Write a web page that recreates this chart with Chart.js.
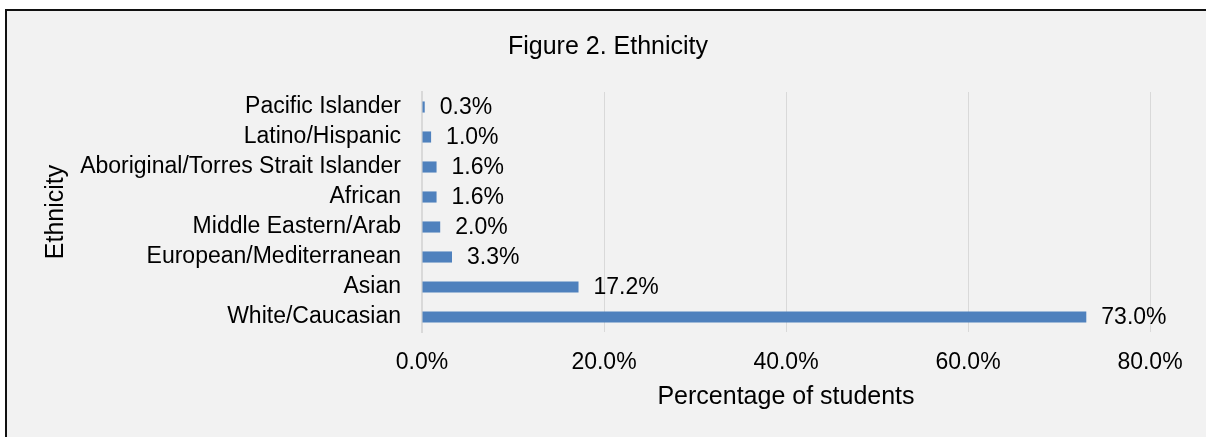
<!DOCTYPE html>
<html>
<head>
<meta charset="utf-8">
<script src="https://cdn.jsdelivr.net/npm/chart.js@4.4.1/dist/chart.umd.min.js"></script>
<style>
  html, body { margin: 0; padding: 0; background: #fff; overflow: hidden; }
  body { width: 1206px; height: 437px; position: relative; }
  #frame {
    position: absolute; left: 5px; top: 9px;
    width: 1199px; height: 426px;
    border-left: 2px solid #111; border-top: 2px solid #111;
    background: #f2f2f2;
  }
  #wrap { position: absolute; left: 0; top: 0; width: 1206px; height: 437px; }
</style>
</head>
<body>
<div id="frame"></div>
<div id="wrap"><canvas id="chart" width="1206" height="437"></canvas></div>
<script>
// categories, top to bottom
const ethnicities = [
  'Pacific Islander',
  'Latino/Hispanic',
  'Aboriginal/Torres Strait Islander',
  'African',
  'Middle Eastern/Arab',
  'European/Mediterranean',
  'Asian',
  'White/Caucasian'
];
// percentage of students
const percentages = [0.3, 1.0, 1.6, 1.6, 2.0, 3.3, 17.2, 73.0];
const xTicks = [0, 20, 40, 60, 80];

const FONT = "'Liberation Sans', Arial, sans-serif";
const TEXT = '#000';

// value labels next to each bar
const barLabels = {
  id: 'barLabels',
  afterDatasetsDraw(chart) {
    const ctx = chart.ctx;
    const meta = chart.getDatasetMeta(0);
    ctx.save();
    ctx.font = '23px ' + FONT;
    ctx.fillStyle = TEXT;
    ctx.textAlign = 'left';
    ctx.textBaseline = 'middle';
    meta.data.forEach((bar, i) => {
      ctx.fillText(percentages[i].toFixed(1) + '%', bar.x + 15, bar.y + 1);
    });
    ctx.restore();
  }
};

new Chart(document.getElementById('chart'), {
  type: 'bar',
  data: {
    labels: ethnicities,
    datasets: [{
      data: percentages,
      backgroundColor: '#4f81bd',
      borderWidth: 0,
      barPercentage: 0.37,
      categoryPercentage: 1
    }]
  },
  options: {
    indexAxis: 'y',
    responsive: false,
    animation: false,
    // left padding also shifts the chart title to where Excel put it
    layout: { padding: { left: 66, right: 56, top: 0, bottom: 0 } },
    plugins: {
      legend: { display: false },
      tooltip: { enabled: false },
      title: {
        display: true,
        text: 'Figure 2. Ethnicity',
        color: TEXT,
        font: { family: FONT, size: 25, weight: 'normal' },
        padding: { top: 32, bottom: 30 }
      }
    },
    scales: {
      x: {
        min: 0,
        max: 80,
        afterBuildTicks(scale) {
          scale.ticks = xTicks.map(v => ({ value: v }));
        },
        afterFit(scale) { scale.height = 105; },
        grid: { color: '#d9d9d9', lineWidth: 1, drawTicks: false },
        border: { display: false },
        ticks: {
          color: TEXT,
          padding: 17,
          font: { family: FONT, size: 23 },
          callback: v => v.toFixed(1) + '%'
        },
        title: {
          display: true,
          text: 'Percentage of students',
          color: TEXT,
          font: { family: FONT, size: 25 },
          padding: { top: 0, bottom: 25 }
        }
      },
      y: {
        afterFit(scale) { scale.width = 356; },
        grid: { display: false, drawTicks: false },
        border: { display: true, color: '#d9d9d9', width: 2 },
        ticks: {
          color: TEXT,
          padding: 21,
          autoSkip: false,
          font: { family: FONT, size: 23 }
        },
        title: {
          display: true,
          text: 'Ethnicity',
          color: TEXT,
          font: { family: FONT, size: 25 },
          padding: { top: -25, bottom: 0 }
        }
      }
    }
  },
  plugins: [barLabels]
});
</script>
</body>
</html>
